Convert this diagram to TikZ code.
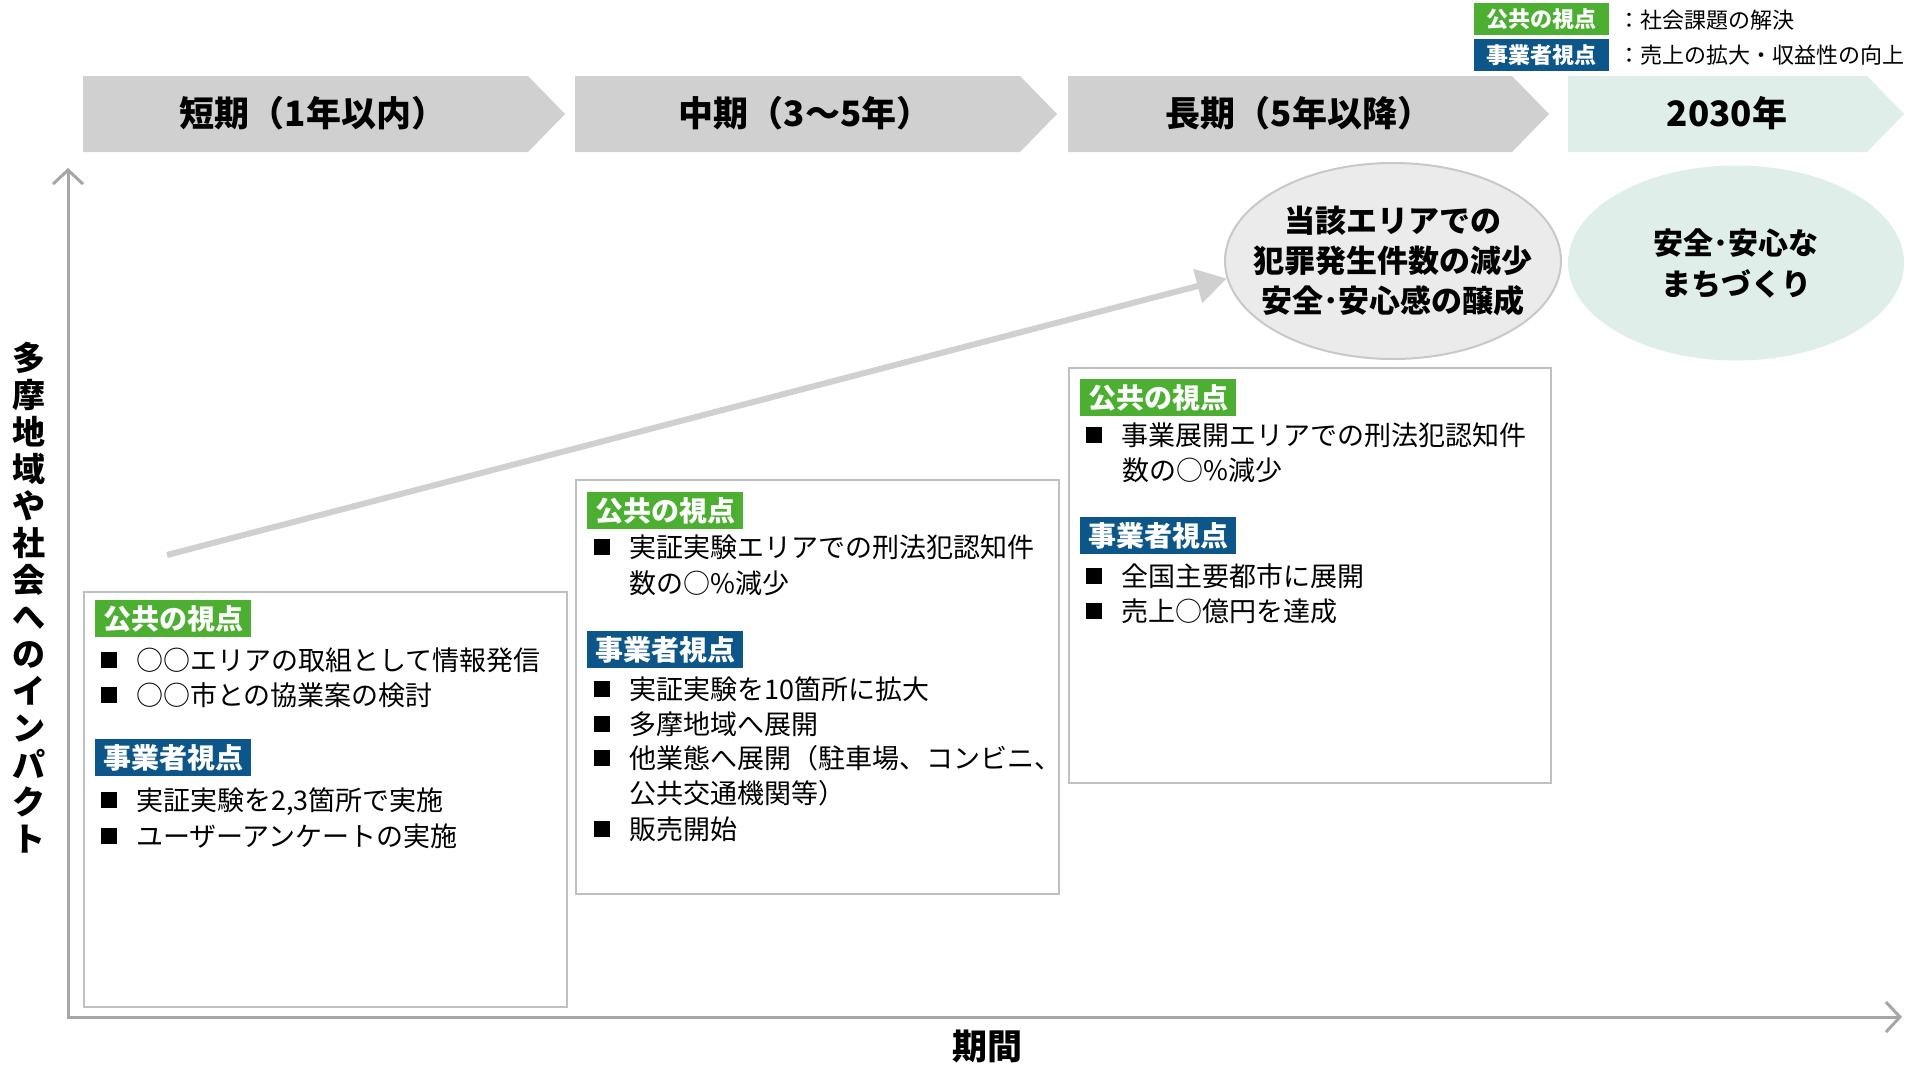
\documentclass[tikz,border=0pt]{standalone}
\usepackage{fontspec}
\setmainfont{Noto Sans CJK JP}
\usetikzlibrary{arrows.meta,shapes.geometric}
\definecolor{hdrgray}{HTML}{D0D0D0}
\definecolor{mint}{HTML}{DFEEE9}
\definecolor{pgreen}{HTML}{4CAF32}
\definecolor{pblue}{HTML}{0D5689}
\definecolor{axgray}{HTML}{A6A6A6}
\definecolor{boxgray}{HTML}{C0C0C0}
\definecolor{elgray}{HTML}{EBEBEB}
\definecolor{elline}{HTML}{C8C8C8}
\definecolor{arrgray}{HTML}{D0D0D0}
\newcommand{\bsq}{\rule[2pt]{16pt}{16pt}\hspace{19pt}}
\begin{document}
\begin{tikzpicture}[x=1pt,y=-1pt,
  hdr/.style={font=\fontsize{35}{40}\selectfont\bfseries, inner sep=0pt},
  lbl/.style={font=\fontsize{28}{30}\selectfont\bfseries, text=white, inner sep=0pt, minimum width=156pt, minimum height=37pt, anchor=north west},
  lgreen/.style={lbl, fill=pgreen},
  lblue/.style={lbl, fill=pblue},
  leg/.style={font=\fontsize{22}{24}\selectfont\bfseries, text=white, inner sep=0pt, minimum width=135pt, minimum height=32pt, anchor=north west},
  legtxt/.style={font=\fontsize{22}{24}\selectfont, anchor=west, inner sep=0pt},
  ln/.style={font=\fontsize{27}{30}\selectfont, anchor=west, inner sep=0pt, text height=24pt, text depth=4pt},
  panel/.style={draw=boxgray, line width=2pt, fill=white, anchor=north west, inner sep=0pt},
  axis/.style={draw=axgray, line width=3pt},
  etext/.style={font=\fontsize{31}{40}\selectfont\bfseries, align=center, inner sep=0pt}
]
\useasboundingbox (0,0) rectangle (1924,1065);
\fill[white] (0,0) rectangle (1924,1065);

% legend
\node[leg, fill=pgreen] (lg1) at (1474,3) {公共の視点};
\node[leg, fill=pblue] (lg2) at (1474,39) {事業者視点};
\node[legtxt] (lt1) at (1618,20) {：社会課題の解決};
\node[legtxt] (lt2) at (1618,55) {：売上の拡大・収益性の向上};

% header chevrons
\fill[hdrgray] (83,76) -- (528,76) -- (565,114) -- (528,152) -- (83,152) -- cycle;
\fill[hdrgray] (575,76) -- (1020,76) -- (1057,114) -- (1020,152) -- (575,152) -- cycle;
\fill[hdrgray] (1068,76) -- (1512,76) -- (1549,114) -- (1512,152) -- (1068,152) -- cycle;
\fill[mint] (1568,76) -- (1867,76) -- (1904,114) -- (1867,152) -- (1568,152) -- cycle;
\node[hdr] (h1) at (313,113) {短期（1年以内）};
\node[hdr] (h2) at (805,113) {中期（3〜5年）};
\node[hdr] (h3) at (1299,113) {長期（5年以降）};
\node[hdr] (h4) at (1727,113) {2030年};

% axes
\coordinate (ytop) at (68,168);
\coordinate (origin) at (68,1017);
\coordinate (xend) at (1902,1017);
\draw[axis, {Straight Barb[length=14pt,width=30pt]}-{Straight Barb[length=14pt,width=30pt]}] (ytop) -- (origin) -- (xend);
\node[font=\fontsize{33}{37}\selectfont\bfseries, align=center, inner sep=0pt] (ylab) at (29,598)
  {多\\摩\\地\\域\\や\\社\\会\\へ\\の\\イ\\ン\\パ\\ク\\ト};
\node[hdr] (xlab) at (987,1046) {期間};

% ellipses
\node[ellipse, draw=elline, line width=2pt, fill=elgray, minimum width=336pt, minimum height=196pt, inner sep=0pt] (e1) at (1393,261) {};
\node[etext] (e1t) at (e1) {当該エリアでの\\犯罪発生件数の減少\\安全･安心感の醸成};
\node[ellipse, fill=mint, minimum width=336pt, minimum height=195pt, inner sep=0pt] (e2) at (1736,263) {};
\node[etext, font=\fontsize{30}{41}\selectfont\bfseries] (e2t) at (e2) {安全･安心な\\まちづくり};

% rising arrow
\coordinate (astart) at (167,555);
\draw[draw=arrgray, line width=6pt, -{Triangle[length=30pt,width=34pt]}] (astart) -- (e1.186);

% box 1
\node[panel, minimum width=483pt, minimum height=415pt] (box1) at (83,591) {};
\node[lgreen] (b1g) at (95,600) {公共の視点};
\node[ln] (b1a) at (101,660) {\bsq ○○エリアの取組として情報発信};
\node[ln] (b1b) at (101,695) {\bsq ○○市との協業案の検討};
\node[lblue] (b1u) at (95,739) {事業者視点};
\node[ln] (b1c) at (101,800) {\bsq 実証実験を2,3箇所で実施};
\node[ln] (b1d) at (101,836) {\bsq ユーザーアンケートの実施};

% box 2
\node[panel, minimum width=483pt, minimum height=414pt] (box2) at (575,479) {};
\node[lgreen] (b2g) at (587,492) {公共の視点};
\node[ln] (b2a) at (594,547) {\bsq 実証実験エリアでの刑法犯認知件};
\node[ln] (b2a2) at (629,583) {数の○\%減少};
\node[lblue] (b2u) at (587,631) {事業者視点};
\node[ln] (b2b) at (594,689) {\bsq 実証実験を10箇所に拡大};
\node[ln] (b2c) at (594,724) {\bsq 多摩地域へ展開};
\node[ln] (b2d) at (594,758) {\bsq 他業態へ展開（駐車場、コンビニ、};
\node[ln] (b2d2) at (629,793) {公共交通機関等）};
\node[ln] (b2e) at (594,829) {\bsq 販売開始};

% box 3
\node[panel, minimum width=482pt, minimum height=415pt] (box3) at (1068,367) {};
\node[lgreen] (b3g) at (1080,379) {公共の視点};
\node[ln] (b3a) at (1086,435) {\bsq 事業展開エリアでの刑法犯認知件};
\node[ln] (b3a2) at (1122,470) {数の○\%減少};
\node[lblue] (b3u) at (1080,517) {事業者視点};
\node[ln] (b3b) at (1086,576) {\bsq 全国主要都市に展開};
\node[ln] (b3c) at (1086,611) {\bsq 売上○億円を達成};
\end{tikzpicture}
\end{document}
